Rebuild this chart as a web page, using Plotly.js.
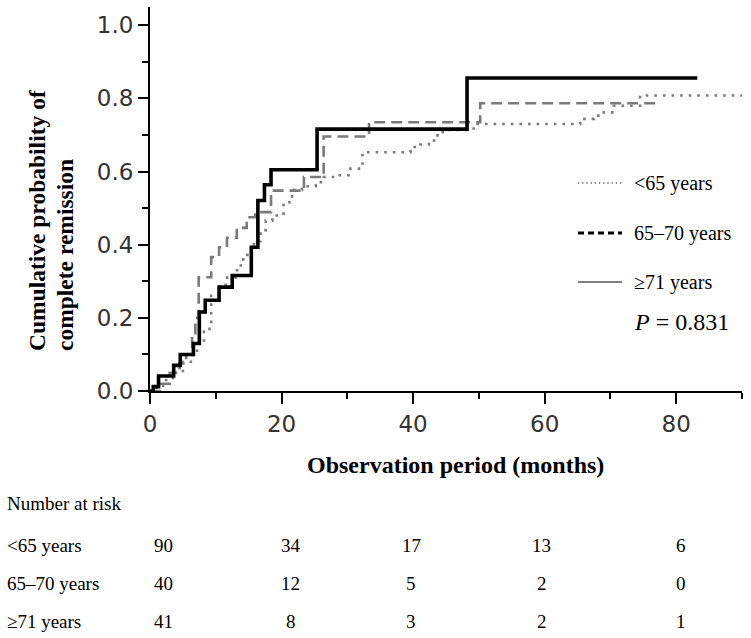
<!DOCTYPE html>
<html>
<head>
<meta charset="utf-8">
<script src="https://cdn.plot.ly/plotly-3.0.1.min.js"></script>
<style>html,body{margin:0;padding:0;background:#fff;}#chart{width:751px;height:638px;}</style>
</head>
<body>
<div id="chart"></div>
<script>
// ---------- data ----------
const seriesNames = ["<65 years", "65\u201370 years", "\u226571 years"];

// <65 years (dotted)
const tLt65 = [0, 1.0, 2.0, 3.5, 5.0, 6.5, 7.4, 8.2, 9.3, 10.5, 11.5, 13.0, 13.8, 14.8, 15.8, 16.8, 17.6, 18.6, 20.3, 21.6, 23.1, 25.2, 26.4, 28.2, 30.2, 32.3, 39.6, 41.1, 42.4, 43.4, 44.5, 49.2, 65.4, 67.5, 69.0, 70.5, 74.5, 90];
const cLt65 = [0, 0.01, 0.03, 0.05, 0.08, 0.11, 0.13, 0.17, 0.26, 0.29, 0.31, 0.33, 0.36, 0.384, 0.41, 0.44, 0.466, 0.48, 0.516, 0.55, 0.56, 0.571, 0.585, 0.59, 0.608, 0.653, 0.667, 0.674, 0.685, 0.699, 0.714, 0.730, 0.744, 0.753, 0.762, 0.78, 0.808, 0.808];

// 65-70 years (dashed)
const t6570 = [0, 1.5, 3.0, 4.5, 5.5, 6.4, 6.9, 7.4, 9.3, 10.5, 11.7, 13.2, 14.7, 16.0, 18.4, 23.4, 26.4, 33.3, 50.2, 77.3];
const c6570 = [0, 0.02, 0.05, 0.075, 0.10, 0.15, 0.20, 0.311, 0.366, 0.393, 0.419, 0.446, 0.475, 0.489, 0.548, 0.585, 0.696, 0.735, 0.787, 0.787];

// >=71 years (solid)
const tGe71 = [0, 0.5, 1.3, 3.6, 4.6, 6.6, 7.5, 8.4, 10.5, 12.5, 15.4, 16.4, 17.4, 18.4, 25.4, 48.2, 83.2];
const cGe71 = [0, 0.012, 0.041, 0.070, 0.100, 0.130, 0.216, 0.248, 0.284, 0.316, 0.393, 0.521, 0.564, 0.605, 0.716, 0.856, 0.856];

// number at risk
const riskTimes = [0, 20, 40, 60, 80];
const riskLt65 = [90, 34, 17, 13, 6];
const risk6570 = [40, 12, 5, 2, 0];
const riskGe71 = [41, 8, 3, 2, 1];

const xTicks = [0, 20, 40, 60, 80];
const yTicks = [0, 0.2, 0.4, 0.6, 0.8, 1.0];
const pValueText = "<i>P</i> = 0.831";

// ---------- layout helpers ----------
const W = 751, H = 638;
const M = {l: 150, r: 9, t: 7, b: 247};
const PW = W - M.l - M.r, PH = H - M.t - M.b;
const px2x = p => (p - M.l) / PW;
const py2y = p => (H - M.b - p) / PH;

const serif = "Liberation Serif, Times New Roman, serif";
const sans = "DejaVu Sans, Verdana, sans-serif";

const traces = [
  {x: tLt65, y: cLt65, mode: "lines", name: seriesNames[0], showlegend: false,
   line: {shape: "hv", color: "#7a7a7a", width: 2.6, dash: "2.6px,6px"}},
  {x: t6570, y: c6570, mode: "lines", name: seriesNames[1], showlegend: false,
   line: {shape: "hv", color: "#7a7a7a", width: 2.6, dash: "11px,6px"}},
  {x: tGe71, y: cGe71, mode: "lines", name: seriesNames[2], showlegend: false,
   line: {shape: "hv", color: "#000", width: 3.6}}
];

const annotations = [];
const shapes = [];

// y axis title (two lines, rotated)
annotations.push({xref: "paper", yref: "paper", x: px2x(37), y: py2y(353), text: "<b>Cumulative probability of</b>",
  textangle: -90, showarrow: false, xanchor: "center", yanchor: "bottom", font: {family: serif, size: 23.5, color: "#000"}});
annotations.push({xref: "paper", yref: "paper", x: px2x(65), y: py2y(353), text: "<b>complete remission</b>",
  textangle: -90, showarrow: false, xanchor: "center", yanchor: "bottom", font: {family: serif, size: 23.5, color: "#000"}});

// x axis title
annotations.push({xref: "paper", yref: "paper", x: px2x(455), y: py2y(465), text: "<b>Observation period (months)</b>",
  showarrow: false, xanchor: "center", yanchor: "middle", font: {family: serif, size: 24, color: "#000"}});

// legend (manual)
const legY = [183, 233, 282];
const legDash = ["1.2px,3px", "6px,4px", "solid"];
const legWidth = [1.2, 2.8, 1.2];
for (let i = 0; i < 3; i++) {
  shapes.push({type: "line", xref: "paper", yref: "paper", x0: px2x(578), x1: px2x(622), y0: py2y(legY[i]), y1: py2y(legY[i]),
    line: {color: "#000", width: legWidth[i], dash: legDash[i]}});
  annotations.push({xref: "paper", yref: "paper", x: px2x(632), y: py2y(legY[i]), text: seriesNames[i].replace("<", "&lt;"),
    showarrow: false, xanchor: "left", yanchor: "middle", font: {family: serif, size: 20, color: "#000"}});
}
annotations.push({xref: "paper", yref: "paper", x: px2x(632), y: py2y(322), text: pValueText,
  showarrow: false, xanchor: "left", yanchor: "middle", font: {family: serif, size: 24, color: "#000"}});

// number at risk table
annotations.push({xref: "paper", yref: "paper", x: px2x(5), y: py2y(503), text: "Number at risk",
  showarrow: false, xanchor: "left", yanchor: "middle", font: {family: serif, size: 19, color: "#000"}});
const riskRows = [riskLt65, risk6570, riskGe71];
const rowY = [545, 583, 621];
const colShift = [13, 9, -2, -3, 5];
for (let r = 0; r < 3; r++) {
  annotations.push({xref: "paper", yref: "paper", x: px2x(5), y: py2y(rowY[r]), text: seriesNames[r].replace("<", "&lt;"),
    showarrow: false, xanchor: "left", yanchor: "middle", font: {family: serif, size: 19, color: "#000"}});
  for (let c = 0; c < riskTimes.length; c++) {
    annotations.push({xref: "x", yref: "paper", x: riskTimes[c], xshift: colShift[c], y: py2y(rowY[r]), text: String(riskRows[r][c]),
      showarrow: false, xanchor: "center", yanchor: "middle", font: {family: serif, size: 19, color: "#000"}});
  }
}

const layout = {
  width: W, height: H,
  margin: M,
  paper_bgcolor: "#fff", plot_bgcolor: "#fff",
  showlegend: false,
  xaxis: {range: [0, 90], tickvals: xTicks, ticktext: xTicks.map(String), ticks: "outside", ticklen: 11, tickwidth: 2, tickcolor: "#000",
    minor: {dtick: 10, tick0: 10, ticks: "outside", ticklen: 6, tickwidth: 2, tickcolor: "#000", showgrid: false},
    showline: true, linecolor: "#000", linewidth: 2, showgrid: false, zeroline: false,
    tickfont: {family: sans, size: 23, color: "#333"}, fixedrange: true},
  yaxis: {range: [0, 1.05], tickvals: yTicks, ticktext: yTicks.map(v => v.toFixed(1)), ticks: "outside", ticklen: 10, tickwidth: 2, tickcolor: "#000",
    minor: {dtick: 0.1, tick0: 0.1, ticks: "outside", ticklen: 6, tickwidth: 2, tickcolor: "#000", showgrid: false},
    showline: true, linecolor: "#000", linewidth: 2, showgrid: false, zeroline: false,
    tickfont: {family: sans, size: 23, color: "#333"}, fixedrange: true},
  annotations: annotations,
  shapes: shapes
};

Plotly.newPlot("chart", traces, layout, {displayModeBar: false, staticPlot: true});
</script>
</body>
</html>
